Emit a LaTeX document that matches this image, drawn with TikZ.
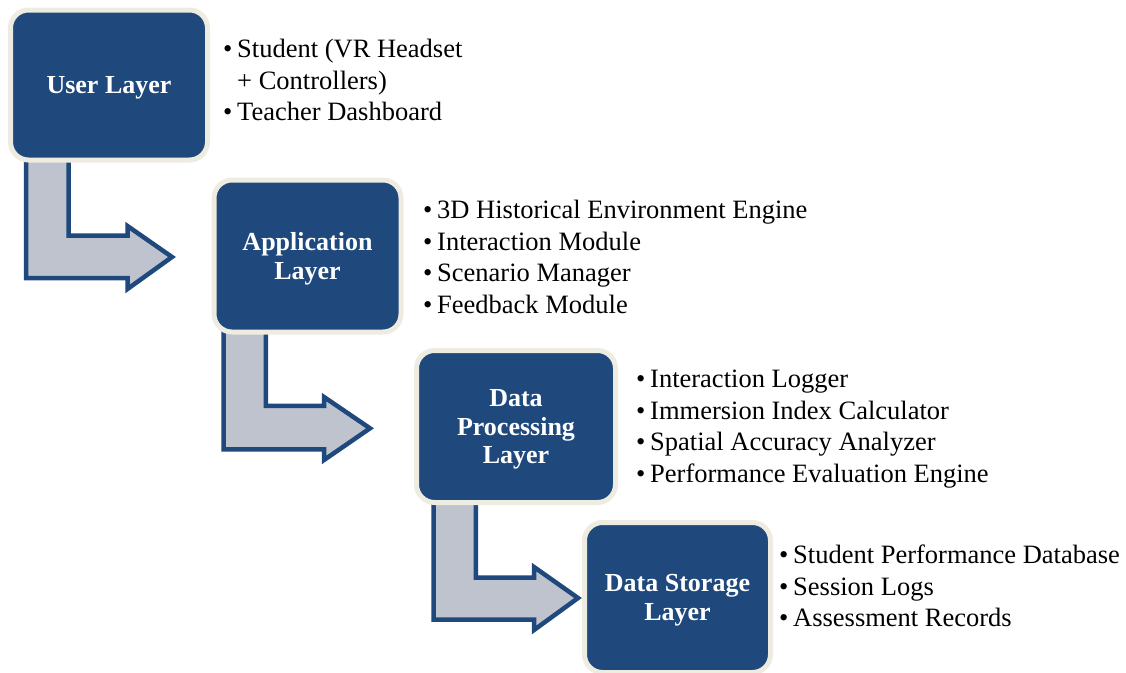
\documentclass[tikz,border=0pt]{standalone}
\usepackage{fontspec}
\setmainfont{Liberation Serif}
\definecolor{boxblue}{HTML}{1F497D}
\definecolor{boxrim}{HTML}{EEEBE0}
\definecolor{arrowfill}{HTML}{BEC3CE}
\newcommand{\itm}[1]{\makebox[14pt][l]{•}#1}
\tikzset{
  layerbox/.style={rectangle, rounded corners=18pt, fill=boxblue, draw=boxrim,
    line width=5pt, text=white, font=\fontsize{26}{28.5}\selectfont\bfseries,
    align=center, inner sep=0pt},
  item/.style={anchor=base west, inner sep=0pt, font=\fontsize{26.5}{30}\selectfont},
  bentarrow/.style={fill=arrowfill, draw=boxblue, line width=4.5pt, line join=miter}
}
\begin{document}
\begin{tikzpicture}[x=1pt, y=-1pt]
\useasboundingbox (0,0) rectangle (1126,672);

% bent arrows
\draw[bentarrow] (26,150) -- (68.5,150) -- (68.5,235.5) -- (127.5,235.5) -- (127.5,226)
  -- (172,257) -- (127.5,289) -- (127.5,278) -- (26,278) -- cycle;
\draw[bentarrow] (223.5,320) -- (265.8,320) -- (265.8,405.8) -- (324,405.8) -- (324,397)
  -- (370,428.3) -- (324,460) -- (324,449.3) -- (223.5,449.3) -- cycle;
\draw[bentarrow] (433.5,490) -- (475.8,490) -- (475.8,577.5) -- (534,577.5) -- (534,567)
  -- (578,598) -- (534,630) -- (534,619.5) -- (433.5,619.5) -- cycle;

% layer boxes
\node[layerbox, minimum width=197pt, minimum height=150pt] (user) at (109,85) {};
\node[layerbox, minimum width=187pt, minimum height=152pt] (app) at (307.5,256) {};
\node[layerbox, minimum width=199pt, minimum height=152pt] (proc) at (516,426.5) {};
\node[layerbox, minimum width=186pt, minimum height=150pt] (store) at (677.5,597.5) {};
\node[layerbox, draw=none, fill=none] (usert) at (109,88) {User Layer};
\node[layerbox, draw=none, fill=none] (appt) at (307.5,259) {Application\\Layer};
\node[layerbox, draw=none, fill=none] (proct) at (516,429.5) {Data\\Processing\\Layer};
\node[layerbox, draw=none, fill=none] (storet) at (677.5,600) {Data Storage\\Layer};

% item lists
\node[item] (u1) at (223,57.5) {\itm{Student (VR Headset}};
\node[item] (u2) at (237,89) {+ Controllers)};
\node[item] (u3) at (223,120.5) {\itm{Teacher Dashboard}};

\node[item] (a1) at (423,218.5) {\itm{3D Historical Environment Engine}};
\node[item] (a2) at (423,250.2) {\itm{Interaction Module}};
\node[item] (a3) at (423,281.9) {\itm{Scenario Manager}};
\node[item] (a4) at (423,313.6) {\itm{Feedback Module}};

\node[item] (p1) at (636,387.5) {\itm{Interaction Logger}};
\node[item] (p2) at (636,419) {\itm{Immersion Index Calculator}};
\node[item] (p3) at (636,450.5) {\itm{Spatial Accuracy Analyzer}};
\node[item] (p4) at (636,482) {\itm{Performance Evaluation Engine}};

\node[item] (s1) at (779,563.5) {\itm{Student Performance Database}};
\node[item] (s2) at (779,595) {\itm{Session Logs}};
\node[item] (s3) at (779,626.5) {\itm{Assessment Records}};
\end{tikzpicture}
\end{document}
